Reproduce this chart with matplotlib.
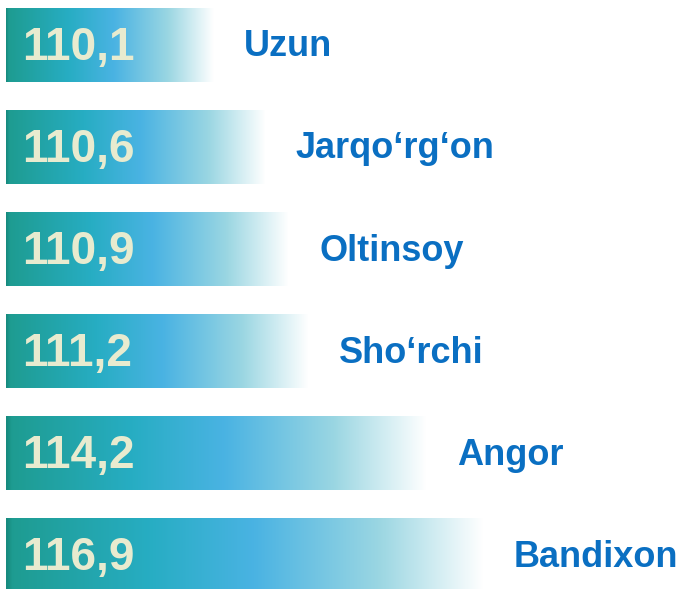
import numpy as np
import matplotlib.pyplot as plt
from matplotlib.colors import LinearSegmentedColormap

# district names and index values (top to bottom)
districts = ['Uzun', 'Jarqo\u2018rg\u2018on', 'Oltinsoy', 'Sho\u2018rchi', 'Angor', 'Bandixon']
values = [110.1, 110.6, 110.9, 111.2, 114.2, 116.9]
value_labels = ['110,1', '110,6', '110,9', '111,2', '114,2', '116,9']

plt.rcParams['font.family'] = ['Liberation Sans', 'DejaVu Sans']

# bar gradient: teal -> blue -> white
grad = LinearSegmentedColormap.from_list('bar', [
	(0.0, '#168a7e'), (0.012, '#1e9c91'), (0.3, '#27adc3'),
	(0.52, '#4ab3e3'), (0.78, '#9ad6e2'), (1.0, '#ffffff')])

fig = plt.figure(figsize=(6.83, 5.89), dpi=100)
ax = fig.add_axes([0, 0, 1, 1])
ax.set_autoscale_on(False)

# compressed value axis so that small differences stay visible
shift = 109.0
ax.set_xscale('function', functions=(lambda v: np.log(np.clip(v - shift, 1e-9, None)),
	lambda u: np.exp(u) + shift))
ax.set_xlim(109.23, 142.8)
ax.set_ylim(5.333, -0.441)
ax.axis('off')

base = 109.241
bar_h = 0.725
ypos = np.arange(len(values))
bars = ax.barh(ypos, np.array(values) - base, left=base, height=bar_h,
	facecolor='none', edgecolor='none')

to_axes = ax.transData + ax.transAxes.inverted()
row = grad(np.linspace(0, 1, 256))[np.newaxis, :, :]
for i, (v, b) in enumerate(zip(values, bars)):
	xa0, ya0 = to_axes.transform((base, ypos[i] + bar_h / 2))
	xa1, ya1 = to_axes.transform((v, ypos[i] - bar_h / 2))
	im = ax.imshow(row, extent=(xa0, xa1, ya0, ya1), transform=ax.transAxes,
		aspect='auto', interpolation='bilinear', zorder=1)
	im.set_clip_path(b)

	ax.annotate(value_labels[i], (base, ypos[i]), xytext=(16, -3),
		textcoords='offset pixels', ha='left', va='center',
		fontsize=33, fontweight='bold', color='#e8ebcf', zorder=3)
	ax.annotate(districts[i], (v, ypos[i]), xytext=(30, -2),
		textcoords='offset pixels', ha='left', va='center',
		fontsize=26, fontweight='bold', color='#0a6fc2', zorder=3)

fig.savefig('out.png', dpi=100)
